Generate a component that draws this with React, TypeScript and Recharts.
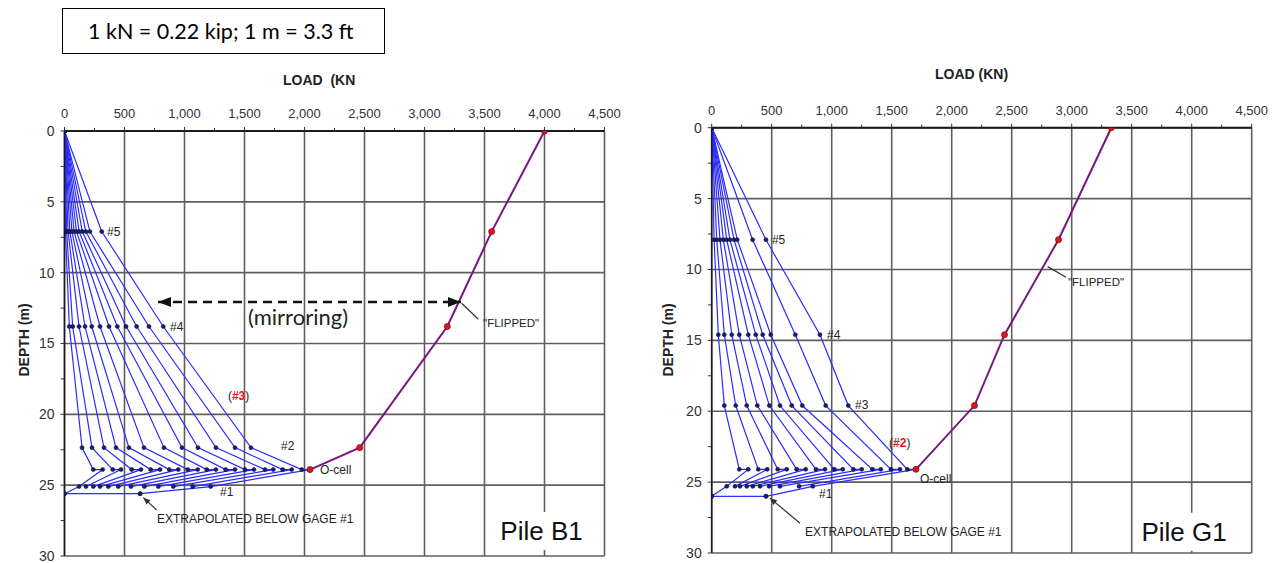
import React from 'react';
import { LineChart, Line, XAxis, YAxis, CartesianGrid, ReferenceDot, ReferenceLine } from 'recharts';

const loadTicks = [0, 500, 1000, 1500, 2000, 2500, 3000, 3500, 4000, 4500];
const minorLoadTicks = [250, 750, 1250, 1750, 2250, 2750, 3250, 3750, 4250];
const depthTicks = [0, 5, 10, 15, 20, 25, 30];
const minorDepthTicks = [2.5, 7.5, 12.5, 17.5, 22.5, 27.5];

// Pile B1 - depths (m): top, gage #5, #4, #2, O-cell, gage #1
const b1Depths = [0, 7.1, 13.8, 22.35, 23.9, 25.1];
const b1ToeDepth = 25.6;
// loads (kN) per load increment
const b1Gage5 = [8, 18, 30, 45, 62, 80, 100, 122, 148, 178, 212, 310];
const b1Gage4 = [40, 68, 121, 171, 227, 296, 371, 440, 513, 601, 704, 823];
const b1Gage2 = [146, 229, 329, 429, 537, 662, 829, 979, 1112, 1262, 1421, 1554];
const b1CellUp = [240, 402, 560, 718, 873, 1027, 1185, 1343, 1504, 1671, 1818, 1977];
const b1CellDown = [318, 471, 637, 796, 948, 1110, 1262, 1421, 1579, 1740, 1893, 2046];
const b1Gage1 = [121, 179, 240, 296, 365, 448, 554, 665, 782, 907, 1068, 1218];
const b1Toe = [0, 630];
const b1Flipped = [4000, 3560, 3190, 2460, 2046];

// Pile G1 - depths (m): top, gage #5, #4, #3, O-cell, gage #1
const g1Depths = [0, 7.9, 14.6, 19.6, 24.1, 25.3];
const g1ToeDepth = 26.0;
const g1Gage5 = [20, 42, 69, 97, 125, 152, 186, 213, 341, 452];
const g1Gage4 = [55, 105, 167, 230, 305, 367, 425, 492, 697, 902];
const g1Gage3 = [105, 200, 292, 380, 480, 569, 667, 755, 950, 1138];
const g1CellUp = [230, 388, 550, 708, 869, 1022, 1181, 1339, 1494, 1630];
const g1CellDown = [305, 463, 625, 783, 944, 1092, 1250, 1409, 1569, 1702];
const g1Gage1 = [125, 194, 236, 292, 342, 403, 478, 569, 728, 842];
const g1Toe = [0, 452];
const g1Flipped = [3330, 2890, 2440, 2190, 1702];

type Pt = { load: number; depth: number };

const buildCurves = (
  depths: number[],
  upper: number[][],
  cellUp: number[],
  cellDown: number[],
  gage1: number[],
  toeDepth: number,
  toe: number[]
): Pt[][] =>
  cellUp.map((_, i) => {
    const pts: Pt[] = [{ load: 0, depth: depths[0] }];
    upper.forEach((g, k) => pts.push({ load: g[i], depth: depths[k + 1] }));
    pts.push({ load: cellUp[i], depth: depths[4] });
    pts.push({ load: cellDown[i], depth: depths[4] });
    pts.push({ load: gage1[i], depth: depths[5] });
    if (i === 0) pts.push({ load: toe[0], depth: toeDepth });
    if (i === cellUp.length - 1) pts.push({ load: toe[1], depth: toeDepth });
    return pts;
  });

const ARIAL = '"Liberation Sans", Arial, sans-serif';
const CALIBRI = 'Lato, "Open Sans", sans-serif';
const INK = '#222';

const fmt = (v: number) => String(v).replace(/\B(?=(\d{3})+(?!\d))/g, ',');

const note = (key: string, x: number, y: number, content: React.ReactNode, size = 12, anchor = 'start', family = ARIAL) => (
  <ReferenceDot
    key={key}
    x={x}
    y={y}
    r={1}
    ifOverflow="visible"
    shape={(p: any) => (
      <text x={p.cx} y={p.cy} dy={size * 0.35} fontSize={size} fontFamily={family} fill={INK} textAnchor={anchor}>
        {content}
      </text>
    )}
  />
);

const pileLabel = (key: string, x: number, y: number, text: string) => (
  <ReferenceDot
    key={key}
    x={x}
    y={y}
    r={1}
    ifOverflow="visible"
    shape={(p: any) => (
      <g>
        <rect x={p.cx - 46} y={p.cy - 19} width={92} height={38} fill="#fff" />
        <text x={p.cx} y={p.cy + 9} fontSize={26} fontFamily={ARIAL} fill="#111" textAnchor="middle">
          {text}
        </text>
      </g>
    )}
  />
);

const head = (x1: number, y1: number, x2: number, y2: number, len: number, w: number) => {
  const d = Math.hypot(x2 - x1, y2 - y1) || 1;
  const ux = (x2 - x1) / d;
  const uy = (y2 - y1) / d;
  const bx = x2 - ux * len;
  const by = y2 - uy * len;
  return `${x2},${y2} ${bx - uy * w},${by + ux * w} ${bx + uy * w},${by - ux * w}`;
};

const arrow = (
  key: string,
  from: Pt,
  to: Pt,
  opts: { dash?: string; width?: number; color?: string; endHead?: boolean; startHead?: boolean; len?: number; w?: number }
) => (
  <ReferenceLine
    key={key}
    segment={[
      { x: from.load, y: from.depth },
      { x: to.load, y: to.depth },
    ]}
    ifOverflow="visible"
    shape={(p: any) => {
      const c = opts.color || '#333';
      const len = opts.len || 8;
      const w = opts.w || 3;
      return (
        <g>
          <line x1={p.x1} y1={p.y1} x2={p.x2} y2={p.y2} stroke={c} strokeWidth={opts.width || 1} strokeDasharray={opts.dash} />
          {opts.endHead && <polygon points={head(p.x1, p.y1, p.x2, p.y2, len, w)} fill={c} />}
          {opts.startHead && <polygon points={head(p.x2, p.y2, p.x1, p.y1, len, w)} fill={c} />}
        </g>
      );
    }}
  />
);

const minorTicks = (id: string) => [
  ...minorLoadTicks.map((v) => (
    <ReferenceLine
      key={`${id}-mx-${v}`}
      segment={[
        { x: v, y: 0 },
        { x: v, y: -0.22 },
      ]}
      ifOverflow="visible"
      stroke="#333"
    />
  )),
  ...minorDepthTicks.map((v) => (
    <ReferenceLine
      key={`${id}-my-${v}`}
      segment={[
        { x: 0, y: v },
        { x: -32, y: v },
      ]}
      ifOverflow="visible"
      stroke="#333"
    />
  )),
];

interface PileChartProps {
  width: number;
  height: number;
  margin: { top: number; right: number; bottom: number; left: number };
  curves: Pt[][];
  flipped: Pt[];
  toe: Pt[];
  notes: React.ReactNode[];
  id: string;
}

const PileChart: React.FC<PileChartProps> = ({ width, height, margin, curves, flipped, toe, notes, id }) => (
  <LineChart width={width} height={height} margin={margin}>
    <CartesianGrid stroke="#5f5f5f" strokeWidth={1.6} />
    <XAxis
      type="number"
      dataKey="load"
      orientation="top"
      domain={[0, 4500]}
      ticks={loadTicks}
      interval={0}
      allowDataOverflow
      height={30}
      tickSize={4}
      tickMargin={9}
      tickFormatter={fmt}
      tick={{ fontSize: 13, fill: '#333', fontFamily: ARIAL }}
      axisLine={{ stroke: '#1a1a1a', strokeWidth: 2 }}
      tickLine={{ stroke: '#333' }}
    />
    <YAxis
      type="number"
      dataKey="depth"
      reversed
      domain={[0, 30]}
      ticks={depthTicks}
      interval={0}
      allowDataOverflow
      width={40}
      tickSize={4}
      tickMargin={6}
      tick={{ fontSize: 14, fill: '#333', fontFamily: ARIAL }}
      axisLine={{ stroke: '#1a1a1a', strokeWidth: 1.5 }}
      tickLine={{ stroke: '#333' }}
    />
    {minorTicks(id)}
    {curves.map((pts, i) => (
      <Line
        key={`${id}-c${i}`}
        data={pts}
        dataKey="depth"
        type="linear"
        stroke="#2b2bff"
        strokeWidth={1.2}
        dot={{ r: 2, fill: '#17206b', stroke: '#0b1140', strokeWidth: 0.6 }}
        isAnimationActive={false}
      />
    ))}
    <Line
      data={toe}
      dataKey="depth"
      type="linear"
      stroke="#2b2bff"
      strokeWidth={1.2}
      dot={{ r: 2, fill: '#17206b', stroke: '#0b1140', strokeWidth: 0.6 }}
      isAnimationActive={false}
    />
    <Line
      data={flipped}
      dataKey="depth"
      type="linear"
      stroke="#7a1682"
      strokeWidth={2}
      dot={{ r: 3, fill: '#e8121c', stroke: '#7a0a10', strokeWidth: 0.8 }}
      isAnimationActive={false}
    />
    {notes}
  </LineChart>
);

const b1Curves = buildCurves(b1Depths, [b1Gage5, b1Gage4, b1Gage2], b1CellUp, b1CellDown, b1Gage1, b1ToeDepth, b1Toe);
const g1Curves = buildCurves(g1Depths, [g1Gage5, g1Gage4, g1Gage3], g1CellUp, g1CellDown, g1Gage1, g1ToeDepth, g1Toe);
const b1FlippedPts = b1Flipped.map((load, i) => ({ load, depth: b1Depths[i] }));
const g1FlippedPts = g1Flipped.map((load, i) => ({ load, depth: g1Depths[i] }));
const b1ToePts = b1Toe.map((load) => ({ load, depth: b1ToeDepth }));
const g1ToePts = g1Toe.map((load) => ({ load, depth: g1ToeDepth }));

const red = (t: string) => (
  <tspan fill="#e8121c" fontWeight="bold">
    {t}
  </tspan>
);

const b1Notes = [
  note('b1-5', 354, 7.1, '#5'),
  note('b1-4', 880, 13.8, '#4'),
  note('b1-3', 1362, 18.7, <>({red('#3')})</>),
  note('b1-2', 1804, 22.2, '#2'),
  note('b1-oc', 2129, 23.9, 'O-cell'),
  note('b1-1', 1296, 25.5, '#1'),
  note('b1-ex', 770, 27.35, 'EXTRAPOLATED BELOW GAGE #1', 12),
  arrow('b1-exa', { load: 768, depth: 26.75 }, { load: 657, depth: 25.88 }, { endHead: true, len: 7, w: 3, width: 1.2 }),
  note('b1-mir', 1946, 13.17, '(mirroring)', 22, 'middle', CALIBRI),
  arrow('b1-mirA', { load: 779, depth: 12.07 }, { load: 3304, depth: 12.07 }, {
    dash: '9 6',
    width: 2.4,
    color: '#111',
    endHead: true,
    startHead: true,
    len: 13,
    w: 5,
  }),
  note('b1-fl', 3488, 13.55, '"FLIPPED"', 11.5),
  arrow('b1-fla', { load: 3448, depth: 13.29 }, { load: 3310, depth: 12.16 }, { width: 1.2 }),
  pileLabel('b1-pile', 3975, 28.23, 'Pile B1'),
];

const g1Notes = [
  note('g1-5', 502, 7.92, '#5'),
  note('g1-4', 961, 14.6, '#4'),
  note('g1-3', 1194, 19.58, '#3'),
  note('g1-2', 1478, 22.26, <>({red('#2')})</>),
  note('g1-oc', 1736, 24.77, 'O-cell'),
  note('g1-1', 894, 25.8, '#1'),
  note('g1-ex', 778, 28.5, 'EXTRAPOLATED BELOW GAGE #1', 12),
  arrow('g1-exa', { load: 736, depth: 27.9 }, { load: 486, depth: 26.13 }, { endHead: true, len: 7, w: 3, width: 1.2 }),
  note('g1-fl', 2969, 10.88, '"FLIPPED"', 11.5),
  arrow('g1-fla', { load: 2953, depth: 10.55 }, { load: 2800, depth: 9.8 }, { width: 1.2 }),
  pileLabel('g1-pile', 3936, 28.5, 'Pile G1'),
];

const axisTitle: React.CSSProperties = {
  position: 'absolute',
  fontFamily: ARIAL,
  fontWeight: 'bold',
  fontSize: 14,
  lineHeight: '16px',
  color: '#222',
  whiteSpace: 'pre',
};

export default function App() {
  return (
    <div style={{ position: 'absolute', left: 0, top: 0, width: 1276, height: 563, background: '#fff', overflow: 'hidden' }}>
      <div
        style={{
          position: 'absolute',
          left: 62,
          top: 8,
          width: 323,
          height: 46,
          boxSizing: 'border-box',
          border: '1px solid #000',
          fontFamily: CALIBRI,
          fontSize: 21.5,
          lineHeight: '44px',
          paddingLeft: 25,
          color: '#000',
        }}
      >
        1 kN = 0.22 kip; 1 m = 3.3 ft
      </div>

      <div style={{ ...axisTitle, left: 283, top: 72 }}>LOAD  (KN</div>
      <div style={{ ...axisTitle, left: 935, top: 66 }}>LOAD (KN)</div>
      <div style={{ ...axisTitle, left: 24, top: 340, transform: 'translate(-50%, -50%) rotate(-90deg)' }}>DEPTH (m)</div>
      <div style={{ ...axisTitle, left: 668, top: 340, transform: 'translate(-50%, -50%) rotate(-90deg)' }}>DEPTH (m)</div>

      <div style={{ position: 'absolute', left: 0, top: 0 }}>
        <PileChart
          id="b1"
          width={640}
          height={563}
          margin={{ top: 101, right: 35.5, bottom: 7, left: 24.5 }}
          curves={b1Curves}
          flipped={b1FlippedPts}
          toe={b1ToePts}
          notes={b1Notes}
        />
      </div>
      <div style={{ position: 'absolute', left: 640, top: 0 }}>
        <PileChart
          id="g1"
          width={636}
          height={563}
          margin={{ top: 97.7, right: 24.3, bottom: 10, left: 31.7 }}
          curves={g1Curves}
          flipped={g1FlippedPts}
          toe={g1ToePts}
          notes={g1Notes}
        />
      </div>
    </div>
  );
}
